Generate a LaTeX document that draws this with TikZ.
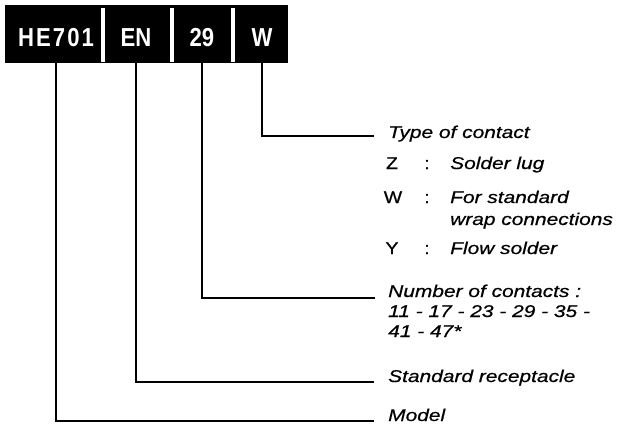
\documentclass[tikz,border=0pt]{standalone}
\usepackage{fontspec}
\setmainfont{Liberation Sans}
\newfontfamily\headfont{Liberation Sans}[FakeStretch=0.85]
\newfontfamily\labelfont{Liberation Sans}[FakeStretch=1.23,FakeBold=0.6]
\newfontfamily\keyfont{Liberation Sans}[FakeStretch=1.15,FakeBold=0.8]
\begin{document}
\begin{tikzpicture}[x=1pt,y=-1pt,
  segtext/.style={text=white,font=\headfont\bfseries\fontsize{26}{26}\selectfont,inner sep=0pt},
  sepbar/.style={fill=white,draw=none},
  leader/.style={line width=2.6pt,line cap=rect},
  lbl/.style={anchor=base west,inner sep=0pt,font=\labelfont\itshape\fontsize{17}{17}\selectfont},
  key/.style={anchor=base,inner sep=0pt,font=\keyfont\fontsize{17}{17}\selectfont}]
\useasboundingbox (0,0) rectangle (618,425);
% code block
\fill[black] (5,5) rectangle (288,63);
\coordinate (barS) at (0,63);
\fill[sepbar] (101,8) rectangle (105,62);
\fill[sepbar] (170,8) rectangle (174,62);
\fill[sepbar] (231,8) rectangle (235,62);
\node[segtext] (model) at (56,37.5) {\addfontfeature{LetterSpace=8}HE701};
\node[segtext] (rec) at (136,37.5) {EN};
\node[segtext] (num) at (202,37.5) {29};
\node[segtext] (type) at (262,37.5) {W};
% labels
\node[lbl] (tType) at (388,138) {Type of contact};
\node[key] (kZ) at (392,169) {Z};
\node[key] at (427,169) {:};
\node[lbl] (tZ) at (450,169) {Solder lug};
\node[key] (kW) at (393,203) {W};
\node[key] at (427,203) {:};
\node[lbl] (tW) at (450,203) {For standard};
\node[lbl] at (450,225) {wrap connections};
\node[key] (kY) at (392,254) {Y};
\node[key] at (427,254) {:};
\node[lbl] (tY) at (450,254) {Flow solder};
\node[lbl] (tNum) at (388,297) {Number of contacts :};
\node[lbl] at (388,317) {11 - 17 - 23 - 29 - 35 -};
\node[lbl] at (388,337) {41 - 47*};
\node[lbl] (tRec) at (388,382) {Standard receptacle};
\node[lbl] (tModel) at (388,421) {Model};
% leaders
\draw[leader] (type |- barS) |- ([xshift=-15pt,yshift=2pt]tType.base west);
\draw[leader] (num |- barS) |- ([xshift=-14pt,yshift=-1pt]tNum.base west);
\draw[leader] (rec |- barS) |- ([xshift=-15pt]tRec.base west);
\draw[leader] (model |- barS) |- ([xshift=-15pt]tModel.base west);
\end{tikzpicture}
\end{document}
